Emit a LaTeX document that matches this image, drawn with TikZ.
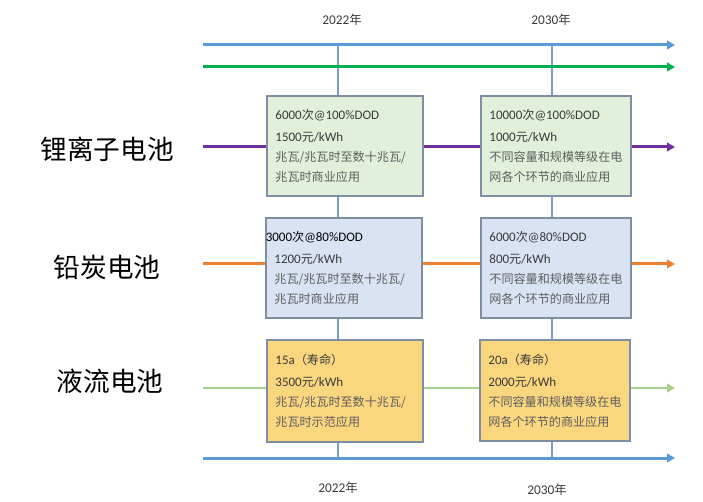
\documentclass[tikz,border=0pt]{standalone}
\usepackage{fontspec}
\setmainfont{Carlito}
\newfontfamily\cjk{Noto Sans CJK SC}
\newfontfamily\cjb[Scale=0.93]{Noto Sans CJK SC}
\usetikzlibrary{arrows.meta}
\definecolor{axisblue}{HTML}{5B9BD5}
\definecolor{axisgreen}{HTML}{00B050}
\definecolor{lipurple}{HTML}{7030A0}
\definecolor{pborange}{HTML}{ED7D31}
\definecolor{flowgreen}{HTML}{A9D18E}
\definecolor{vline}{HTML}{7A9CC6}
\definecolor{boxborder}{HTML}{7F8FA3}
\definecolor{fillgreen}{HTML}{E2EFDA}
\definecolor{fillblue}{HTML}{DAE3F3}
\definecolor{fillyellow}{HTML}{FAD67E}
\definecolor{txtdark}{HTML}{3A3A3A}
\definecolor{txtgray}{HTML}{5E5E5E}
\tikzset{
  tline/.style={line width=2.25pt,-{Triangle[length=6pt,width=6.5pt]}},
  yearlbl/.style={font=\fontsize{10}{12}\selectfont, text=txtdark, inner sep=0pt},
  rowlbl/.style={font=\cjk\fontsize{20}{24}\selectfont, text=black, inner sep=0pt},
  infobox/.style={draw=boxborder, line width=1.2pt, anchor=north west,
    align=left, inner xsep=6.5pt, inner ysep=0pt, text=txtgray,
    font=\fontsize{9.75}{15}\selectfont},
  leftbox/.style={infobox, minimum width=117pt, text width=104pt},
  rightbox/.style={infobox, minimum width=112.5pt, text width=99.5pt},
}
\newcommand{\hl}[1]{\textcolor{txtdark}{#1}}
\begin{document}
\begin{tikzpicture}[x=0.75pt,y=-0.75pt]
\useasboundingbox (0,0) rectangle (703,502);
% year labels
\node[yearlbl] (y1t) at (342,20) {2022{\cjb 年}};
\node[yearlbl] (y2t) at (551,20) {2030{\cjb 年}};
\node[yearlbl] (y1b) at (338,488) {2022{\cjb 年}};
\node[yearlbl] (y2b) at (547,490) {2030{\cjb 年}};
% coordinates
\coordinate (v1t) at (338,45);
\coordinate (v1b) at (338,458);
\coordinate (v2t) at (552,45);
\coordinate (v2b) at (552,458);
\coordinate (tbS) at (203,45);  \coordinate (tbE) at (675,45);
\coordinate (tgS) at (203,67);  \coordinate (tgE) at (675,67);
\coordinate (r1S) at (203,147); \coordinate (r1E) at (675,147);
\coordinate (r2S) at (203,264); \coordinate (r2E) at (675,264);
\coordinate (r3S) at (203,388); \coordinate (r3E) at (675,388);
\coordinate (bbS) at (203,458); \coordinate (bbE) at (675,458);
% vertical year lines
\draw[vline, line width=0.9pt] (v1t) -- (v1b);
\draw[vline, line width=0.9pt] (v2t) -- (v2b);
% axes
\draw[tline, axisblue] (tbS) -- (tbE);
\draw[tline, axisgreen] (tgS) -- (tgE);
\draw[tline, lipurple] (r1S) -- (r1E);
\draw[tline, pborange] (r2S) -- (r2E);
\draw[tline, flowgreen, line width=1.9pt] (r3S) -- (r3E);
\draw[tline, axisblue] (bbS) -- (bbE);
% row labels
\node[rowlbl] (lab1) at (107,149) {锂离子电池};
\node[rowlbl] (lab2) at (107,267) {铅炭电池};
\node[rowlbl] (lab3) at (110,381) {液流电池};
% row 1 boxes
\node[leftbox, fill=fillgreen, minimum height=75pt] (l1) at (266,95)
  {\hl{6000{\cjb 次}@100\%DOD}\\[1.5pt] \hl{1500{\cjb 元}/kWh}\\ {\cjb 兆瓦/兆瓦时至数十兆瓦/}\\ {\cjb 兆瓦时商业应用}};
\node[rightbox, fill=fillgreen, minimum height=75pt] (r1) at (480,95)
  {\hl{10000{\cjb 次}@100\%DOD}\\[1.5pt] \hl{1000{\cjb 元}/kWh}\\ {\cjb 不同容量和规模等级在电}\\ {\cjb 网各个环节的商业应用}};
% row 2 boxes
\node[leftbox, fill=fillblue, minimum height=75pt] (l2) at (265,217)
  {\hspace*{-6.5pt}\textcolor{black}{3000{\cjb 次}@80\%DOD}\\[1.5pt] \hl{1200{\cjb 元}/kWh}\\ {\cjb 兆瓦/兆瓦时至数十兆瓦/}\\ {\cjb 兆瓦时商业应用}};
\node[rightbox, fill=fillblue, minimum height=75pt] (r2) at (480,217)
  {\hl{6000{\cjb 次}@80\%DOD}\\[1.5pt] \hl{800{\cjb 元}/kWh}\\ {\cjb 不同容量和规模等级在电}\\ {\cjb 网各个环节的商业应用}};
% row 3 boxes
\node[leftbox, fill=fillyellow, minimum height=76.5pt] (l3) at (266,339)
  {\hl{15a{\cjb （寿命）}}\\[1.5pt] \hl{3500{\cjb 元}/kWh}\\ {\cjb 兆瓦/兆瓦时至数十兆瓦/}\\ {\cjb 兆瓦时示范应用}};
\node[rightbox, fill=fillyellow, minimum height=76pt] (r3) at (479,339)
  {\hl{20a{\cjb （寿命）}}\\[1.5pt] \hl{2000{\cjb 元}/kWh}\\ {\cjb 不同容量和规模等级在电}\\ {\cjb 网各个环节的商业应用}};
\end{tikzpicture}
\end{document}
